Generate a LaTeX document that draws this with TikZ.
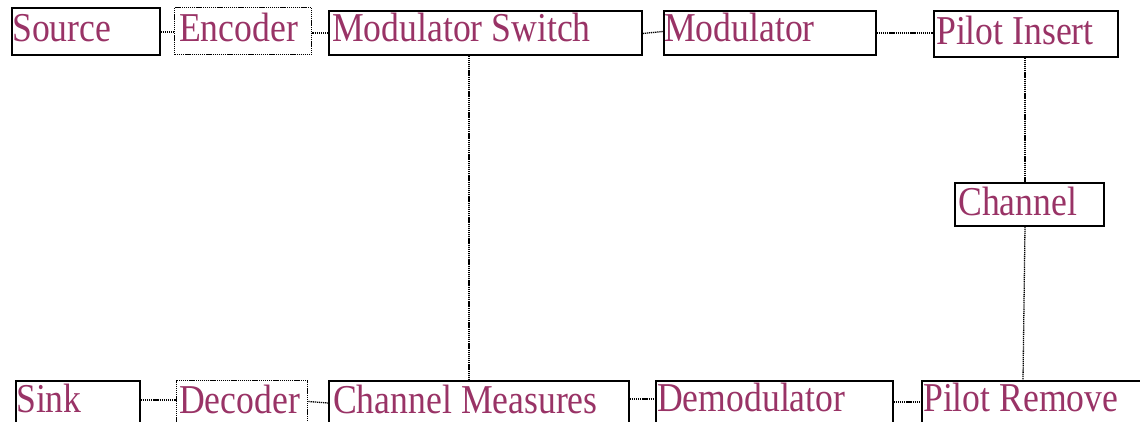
\documentclass[tikz,border=0pt]{standalone}
\usepackage{fontspec}
\setmainfont{Liberation Serif}[FakeStretch=0.87]
\definecolor{plum}{RGB}{153,51,102}
\tikzset{
  blk/.style={draw=black, line width=1.6pt, rectangle, inner sep=0pt, anchor=north west},
  dblk/.style={draw=black, line width=1.4pt, dash pattern=on 1.3pt off 0.8pt, rectangle, inner sep=0pt, anchor=north west},
  lbl/.style={anchor=base west, inner sep=0pt, text=plum, font=\fontsize{41}{41}\selectfont},
  wire/.style={draw=black, line width=1.3pt, dash pattern=on 1.3pt off 0.8pt}
}
\begin{document}
\begin{tikzpicture}[x=1pt, y=-1pt]
\useasboundingbox (0,0) rectangle (1140,422);

% transmitter chain (top row)
\node[blk,  minimum width=148pt, minimum height=47pt] (src) at (11,7) {};
\node[dblk, minimum width=137pt, minimum height=47pt] (enc) at (174,7) {};
\node[blk,  minimum width=313pt, minimum height=44pt] (msw) at (328,10) {};
\node[blk,  minimum width=212pt, minimum height=44pt] (mod) at (663,10) {};
\node[blk,  minimum width=184pt, minimum height=46pt] (pin) at (933,10) {};

% channel
\node[blk,  minimum width=149pt, minimum height=43pt] (chn) at (954,182) {};

% receiver chain (bottom row)
\node[blk,  minimum width=124pt, minimum height=50pt] (snk) at (15,380) {};
\node[dblk, minimum width=131pt, minimum height=50pt] (dec) at (176,380) {};
\node[blk,  minimum width=300pt, minimum height=50pt] (cms) at (328,380) {};
\node[blk,  minimum width=237pt, minimum height=50pt] (dem) at (655,380) {};
\node[blk,  minimum width=240pt, minimum height=50pt] (prm) at (921,380) {};

% block labels
\node[lbl] (src-t) at (12,42)  {Source};
\node[lbl] (enc-t) at (179,42) {Encoder};
\node[lbl] (msw-t) at (332,42) {Modulator Switch};
\node[lbl] (mod-t) at (664,42) {Modulator};
\node[lbl] (pin-t) at (936,45) {Pilot Insert};
\node[lbl] (chn-t) at (958,215) {Channel};
\node[lbl] (snk-t) at (16,412) {Sink};
\node[lbl] (dec-t) at (179,413) {Decoder};
\node[lbl] (cms-t) at (333,413) {Channel Measures};
\node[lbl] (dem-t) at (657,411) {Demodulator};
\node[lbl] (prm-t) at (923,411) {Pilot Remove};

% connections
\draw[wire] (src.east |- 0,32) -- (enc.west |- 0,32);
\draw[wire] (enc.east |- 0,33) -- (msw.west |- 0,33);
\draw[wire] (msw.east |- 0,33.5) -- (mod.west |- 0,31.5);
\draw[wire] (mod.east |- 0,33) -- (pin.west |- 0,33);
\draw[wire] (msw.south -| 469,0) -- (cms.north -| 469,0);
\draw[wire] (pin.south -| 1025,0) -- (chn.north -| 1025,0);
\draw[wire] (chn.south -| 1025,0) -- (prm.north -| 1023,0);
\draw[wire] (snk.east |- 0,400) -- (dec.west |- 0,400);
\draw[wire] (dec.east |- 0,401.5) -- (cms.west |- 0,403);
\draw[wire] (cms.east |- 0,399) -- (dem.west |- 0,399);
\draw[wire] (dem.east |- 0,402) -- (prm.west |- 0,402);
\end{tikzpicture}
\end{document}
